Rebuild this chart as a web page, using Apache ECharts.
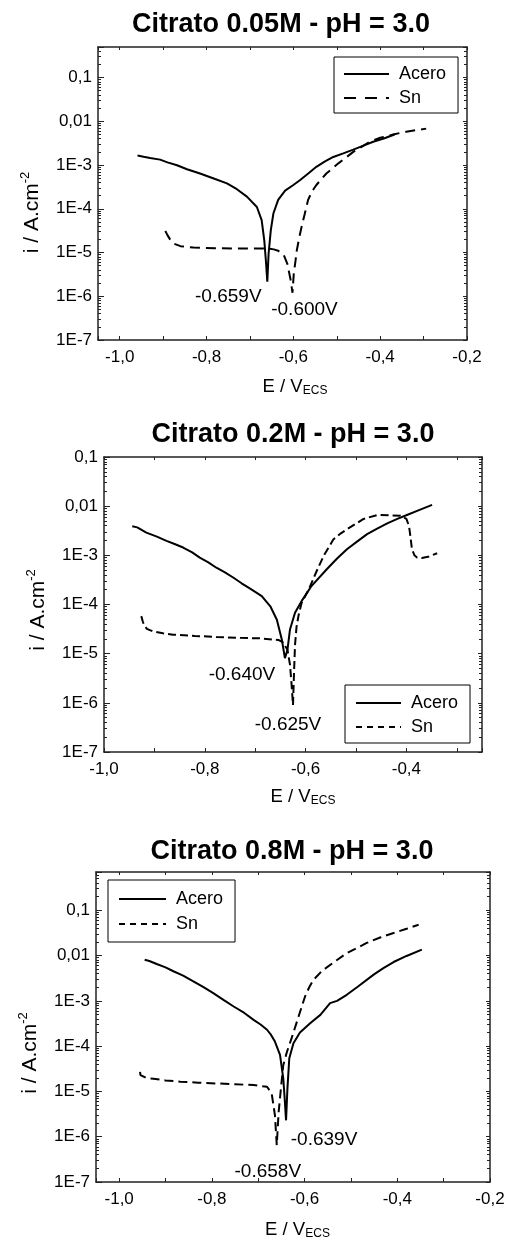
<!DOCTYPE html>
<html>
<head>
<meta charset="utf-8">
<title>Curvas de polarización - Citrato pH 3.0</title>
<script src="https://cdn.jsdelivr.net/npm/echarts@6.0.0/dist/echarts.min.js"></script>
<style>
    html, body { margin: 0; padding: 0; background: #fff; }
    #main { width: 509px; height: 1245px; }
</style>
</head>
<body>
<div id="main"></div>
<script>
// datos: [E (V vs ECS), i (A/cm2)]
var acero005 = [[-0.959,1.65e-3],[-0.945,1.55e-3],[-0.930,1.45e-3],[-0.907,1.33e-3],[-0.890,1.15e-3],[-0.868,9.9e-4],
    [-0.845,8.0e-4],[-0.815,6.4e-4],[-0.785,5.0e-4],[-0.753,3.8e-4],[-0.730,2.8e-4],[-0.707,1.9e-4],[-0.684,1.1e-4],
    [-0.673,5.5e-5],[-0.667,1.9e-5],[-0.663,6e-6],[-0.660,2.15e-6],[-0.657,9.5e-6],[-0.652,3.2e-5],[-0.646,7.8e-5],
    [-0.635,1.6e-4],[-0.619,2.6e-4],[-0.600,3.5e-4],[-0.585,4.5e-4],[-0.565,6.5e-4],[-0.547,9.1e-4],[-0.528,1.2e-3],
    [-0.508,1.53e-3],[-0.485,1.85e-3],[-0.462,2.25e-3],[-0.440,2.75e-3],[-0.416,3.4e-3],[-0.390,4.1e-3],[-0.367,5.0e-3]];
var sn005 = [[-0.895,3.1e-5],[-0.890,2.5e-5],[-0.884,2.0e-5],[-0.876,1.6e-5],[-0.860,1.4e-5],[-0.830,1.3e-5],
    [-0.780,1.25e-5],[-0.738,1.24e-5],[-0.700,1.24e-5],[-0.661,1.24e-5],[-0.645,1.18e-5],[-0.635,1.1e-5],[-0.622,8.7e-6],
    [-0.614,5.6e-6],[-0.606,2.3e-6],[-0.602,1.2e-6],[-0.599,3.3e-6],[-0.595,6.5e-6],[-0.592,1.13e-5],[-0.586,2.3e-5],
    [-0.581,3.9e-5],[-0.574,7.5e-5],[-0.566,1.6e-4],[-0.557,2.5e-4],[-0.547,3.5e-4],[-0.524,6.4e-4],[-0.497,1.08e-3],
    [-0.480,1.45e-3],[-0.462,2.0e-3],[-0.424,3.4e-3],[-0.400,4.2e-3],[-0.370,5.0e-3],[-0.340,5.8e-3],[-0.294,6.8e-3]];

var acero02 = [[-0.944,3.9e-3],[-0.934,3.7e-3],[-0.916,2.9e-3],[-0.895,2.4e-3],[-0.876,1.97e-3],[-0.860,1.7e-3],
    [-0.843,1.44e-3],[-0.825,1.15e-3],[-0.810,9.0e-4],[-0.793,7.2e-4],[-0.777,5.6e-4],[-0.760,4.5e-4],[-0.743,3.5e-4],
    [-0.727,2.7e-4],[-0.710,2.1e-4],[-0.687,1.48e-4],[-0.670,9.2e-5],[-0.657,4.9e-5],[-0.647,1.9e-5],[-0.641,8.1e-6],
    [-0.636,1.2e-5],[-0.631,3.1e-5],[-0.621,6.8e-5],[-0.608,1.17e-4],[-0.588,2.4e-4],[-0.558,5.2e-4],[-0.538,8.5e-4],
    [-0.518,1.33e-3],[-0.498,1.9e-3],[-0.478,2.7e-3],[-0.458,3.5e-3],[-0.438,4.45e-3],[-0.418,5.5e-3],[-0.399,6.6e-3],
    [-0.375,8.3e-3],[-0.349,1.06e-2]];
var sn02 = [[-0.926,5.8e-5],[-0.923,4.5e-5],[-0.921,3.9e-5],[-0.915,3.2e-5],[-0.903,2.85e-5],[-0.883,2.6e-5],
    [-0.863,2.43e-5],[-0.820,2.3e-5],[-0.777,2.18e-5],[-0.730,2.1e-5],[-0.690,2.05e-5],[-0.654,1.9e-5],[-0.645,1.7e-5],
    [-0.636,1.2e-5],[-0.631,6e-6],[-0.628,2.5e-6],[-0.625,9e-7],[-0.623,4e-6],[-0.621,1.5e-5],[-0.618,3.5e-5],
    [-0.614,6e-5],[-0.608,1.07e-4],[-0.594,2.0e-4],[-0.578,4.8e-4],[-0.564,9.8e-4],[-0.545,2.1e-3],[-0.530,2.8e-3],
    [-0.518,3.4e-3],[-0.500,4.4e-3],[-0.485,5.5e-3],[-0.458,6.6e-3],[-0.430,6.5e-3],[-0.412,6.4e-3],[-0.400,5.5e-3],
    [-0.395,4.0e-3],[-0.393,2.9e-3],[-0.389,1.33e-3],[-0.384,1.0e-3],[-0.379,9.0e-4],[-0.369,8.8e-4],[-0.355,9.5e-4],
    [-0.339,1.1e-3]];

var acero08 = [[-0.945,8.1e-3],[-0.935,7.6e-3],[-0.919,6.5e-3],[-0.900,5.5e-3],[-0.883,4.5e-3],[-0.862,3.6e-3],
    [-0.840,2.7e-3],[-0.818,2.0e-3],[-0.797,1.48e-3],[-0.775,1.05e-3],[-0.753,7.5e-4],[-0.730,5.4e-4],[-0.710,3.8e-4],
    [-0.695,3.0e-4],[-0.681,2.3e-4],[-0.672,1.75e-4],[-0.664,1.26e-4],[-0.653,6.4e-5],[-0.646,1.94e-5],[-0.643,7e-6],
    [-0.640,2.3e-6],[-0.637,1.17e-5],[-0.633,5.4e-5],[-0.624,1.16e-4],[-0.610,2.0e-4],[-0.588,3.2e-4],[-0.566,4.9e-4],
    [-0.545,8.9e-4],[-0.530,1.0e-3],[-0.509,1.36e-3],[-0.484,2.1e-3],[-0.451,3.8e-3],[-0.430,5.3e-3],[-0.408,7.2e-3],
    [-0.380,9.8e-3],[-0.347,1.35e-2]];
var sn08 = [[-0.955,2.7e-5],[-0.954,2.3e-5],[-0.951,2.1e-5],[-0.940,1.95e-5],[-0.926,1.9e-5],[-0.900,1.75e-5],
    [-0.868,1.64e-5],[-0.830,1.56e-5],[-0.789,1.5e-5],[-0.750,1.44e-5],[-0.710,1.38e-5],[-0.681,1.27e-5],[-0.671,9.0e-6],
    [-0.664,3.0e-6],[-0.660,6.5e-7],[-0.656,3.5e-6],[-0.651,1.17e-5],[-0.646,3.8e-5],[-0.638,7.5e-5],[-0.628,1.5e-4],
    [-0.620,2.7e-4],[-0.613,4.5e-4],[-0.606,7.5e-4],[-0.599,1.25e-3],[-0.590,2.0e-3],[-0.581,2.9e-3],[-0.566,4.2e-3],
    [-0.552,5.5e-3],[-0.530,8.0e-3],[-0.509,1.13e-2],[-0.488,1.45e-2],[-0.466,1.9e-2],[-0.437,2.5e-2],[-0.408,3.15e-2],
    [-0.380,3.9e-2],[-0.354,4.8e-2]];

var titulos = ['Citrato 0.05M - pH = 3.0', 'Citrato 0.2M - pH = 3.0', 'Citrato 0.8M - pH = 3.0'];
var ecorrAcero = ['-0.659V', '-0.640V', '-0.639V'];
var ecorrSn = ['-0.600V', '-0.625V', '-0.658V'];
var yTickText = ['1E-7', '1E-6', '1E-5', '1E-4', '1E-3', '0,01', '0,1'];
var xMin = [-1.05, -1.0, -1.05];
var xMax = [-0.2, -0.25, -0.2];
var yMin = [1e-7, 1e-7, 1e-7];
var yMax = [0.5, 0.1, 0.7];

var aceroData = [acero005, acero02, acero08];
var snData = [sn005, sn02, sn08];

var FONT = '"Liberation Sans", Arial, sans-serif';
var INK = '#000';
var FRAME = '#222';

// layout de cada panel
var grids = [
    {left: 98, top: 47, width: 369, height: 293},
    {left: 104, top: 457, width: 378, height: 295},
    {left: 96, top: 872, width: 394, height: 310}
];
var tituloPos = [[281, 25], [293, 435], [292, 852]];
var legendPos = [
    {left: 334, top: 57, padding: [7, 12, 5, 9], itemWidth: 45, itemGap: 4, dash: [12, 9]},
    {left: 345, top: 685, padding: [8, 12, 6, 10], itemWidth: 45, itemGap: 4, dash: [6, 5]},
    {left: 108, top: 880, padding: [9, 12, 8, 10], itemWidth: 47, itemGap: 5, dash: [6, 5]}
];
var plotDash = [[10, 6], [8, 4], [9, 5]];
var yNamePad = [38, 11, 52];
var xNamePad = [25, 20, 9];
var xNameGap = [37, 35, 38];
var labelOffAcero = [[-39, 15], [-43, 17], [38, 19]];
var labelOffSn = [[12, 17], [-5, 20], [-9, 27]];

function minPoint(arr) {
    var m = arr[0];
    arr.forEach(function (p) { if (p[1] < m[1]) m = p; });
    return m;
}

function xLabel(v) {
    var t = v * 10;
    if (Math.abs(t - Math.round(t)) > 1e-6) return '';
    if (Math.round(t) % 2 !== 0) return '';
    return v.toFixed(1).replace('.', ',');
}

function yLabel(v) {
    var l = Math.log(v) / Math.LN10;
    var e = Math.round(l);
    if (Math.abs(l - e) > 1e-6) return '';
    return yTickText[e + 7] || '';
}

function marca(text, off, arr) {
    return {
        symbol: 'circle',
        symbolSize: 2,
        silent: true,
        itemStyle: {color: 'rgba(0,0,0,0)'},
        label: {
            show: true, position: 'inside', formatter: text, offset: off,
            fontSize: 19, color: INK, fontFamily: FONT
        },
        data: [{coord: minPoint(arr)}]
    };
}

var option = {
    backgroundColor: '#fff',
    animation: false,
    grid: [],
    xAxis: [],
    yAxis: [],
    legend: [],
    series: [],
    graphic: []
};

for (var k = 0; k < 3; k++) {
    option.grid.push(Object.assign({outerBoundsMode: 'none', containLabel: false}, grids[k]));

    option.graphic.push({
        type: 'text', x: tituloPos[k][0], y: tituloPos[k][1],
        style: {
            text: titulos[k], fill: INK, font: 'bold 27px ' + FONT,
            textAlign: 'center', textVerticalAlign: 'middle'
        }
    });

    var axLine = {show: true, onZero: false, lineStyle: {color: FRAME, width: 1.5}};

    option.xAxis.push({
        type: 'value', gridIndex: k, min: xMin[k], max: xMax[k], splitNumber: 8,
        axisLine: axLine,
        axisTick: {show: true, inside: true, length: 4, lineStyle: {color: FRAME, width: 1}},
        axisLabel: {formatter: xLabel, fontSize: 17, color: INK, fontFamily: FONT, margin: 9},
        splitLine: {show: false},
        name: '{a|E / V}{b|ECS}',
        nameLocation: 'middle',
        nameGap: xNameGap[k],
        nameTextStyle: {
            padding: [0, 0, 0, xNamePad[k]],
            rich: {
                a: {fontSize: 18.5, fontFamily: FONT, color: INK, lineHeight: 20, verticalAlign: 'top'},
                b: {fontSize: 12, fontFamily: FONT, color: INK, lineHeight: 12, padding: [16, 0, 0, 0], verticalAlign: 'bottom'}
            }
        }
    });
    option.xAxis.push({
        type: 'value', gridIndex: k, position: 'top', min: xMin[k], max: xMax[k], splitNumber: 8,
        axisLine: axLine,
        axisTick: {show: true, inside: true, length: 3, lineStyle: {color: FRAME, width: 1}},
        axisLabel: {show: false},
        splitLine: {show: false}
    });

    option.yAxis.push({
        type: 'log', logBase: 10, gridIndex: k, min: yMin[k], max: yMax[k],
        axisLine: axLine,
        axisTick: {show: true, inside: true, length: 6, lineStyle: {color: FRAME, width: 1}},
        minorTick: {show: true, splitNumber: 9, length: 3, lineStyle: {color: FRAME, width: 1}},
        axisLabel: {formatter: yLabel, fontSize: 17, color: INK, fontFamily: FONT, margin: 6},
        splitLine: {show: false},
        name: '{a|i / A.cm}{b|-2}',
        nameLocation: 'middle',
        nameGap: 55,
        nameRotate: 90,
        nameTextStyle: {
            padding: [0, yNamePad[k], 0, 0],
            rich: {
                a: {fontSize: 21, fontFamily: FONT, color: INK, lineHeight: 24, verticalAlign: 'bottom'},
                b: {fontSize: 13, fontFamily: FONT, color: INK, lineHeight: 13, verticalAlign: 'top'}
            }
        }
    });
    option.yAxis.push({
        type: 'log', logBase: 10, gridIndex: k, position: 'right', min: yMin[k], max: yMax[k],
        axisLine: axLine,
        axisTick: {show: true, inside: true, length: 4, lineStyle: {color: FRAME, width: 1}},
        minorTick: {show: true, splitNumber: 9, length: 3, lineStyle: {color: FRAME, width: 1}},
        axisLabel: {show: false},
        splitLine: {show: false}
    });

    var lp = legendPos[k];
    option.legend.push({
        left: lp.left, top: lp.top, orient: 'vertical',
        padding: lp.padding,
        itemWidth: lp.itemWidth, itemHeight: 14, itemGap: lp.itemGap,
        borderColor: INK, borderWidth: 1,
        selectedMode: false,
        textStyle: {fontSize: 18, color: INK, fontFamily: FONT, lineHeight: 20, padding: [0, 0, 0, 5]},
        data: [
            {name: 'Acero', itemStyle: {opacity: 0}, lineStyle: {type: 'solid', width: 2, color: INK}},
            {name: 'Sn', itemStyle: {opacity: 0}, lineStyle: {type: lp.dash, width: 2, color: INK}}
        ]
    });

    option.series.push({
        name: 'Acero', type: 'line', xAxisIndex: 2 * k, yAxisIndex: 2 * k,
        data: aceroData[k], symbol: 'none', smooth: false,
        lineStyle: {color: INK, width: 2, type: 'solid'},
        itemStyle: {color: INK},
        markPoint: marca(ecorrAcero[k], labelOffAcero[k], aceroData[k])
    });
    option.series.push({
        name: 'Sn', type: 'line', xAxisIndex: 2 * k, yAxisIndex: 2 * k,
        data: snData[k], symbol: 'none', smooth: false,
        lineStyle: {color: INK, width: 2, type: plotDash[k]},
        itemStyle: {color: INK},
        markPoint: marca(ecorrSn[k], labelOffSn[k], snData[k])
    });
}

var chart = echarts.init(document.getElementById('main'), null, {renderer: 'canvas'});
chart.setOption(option);
</script>
</body>
</html>
